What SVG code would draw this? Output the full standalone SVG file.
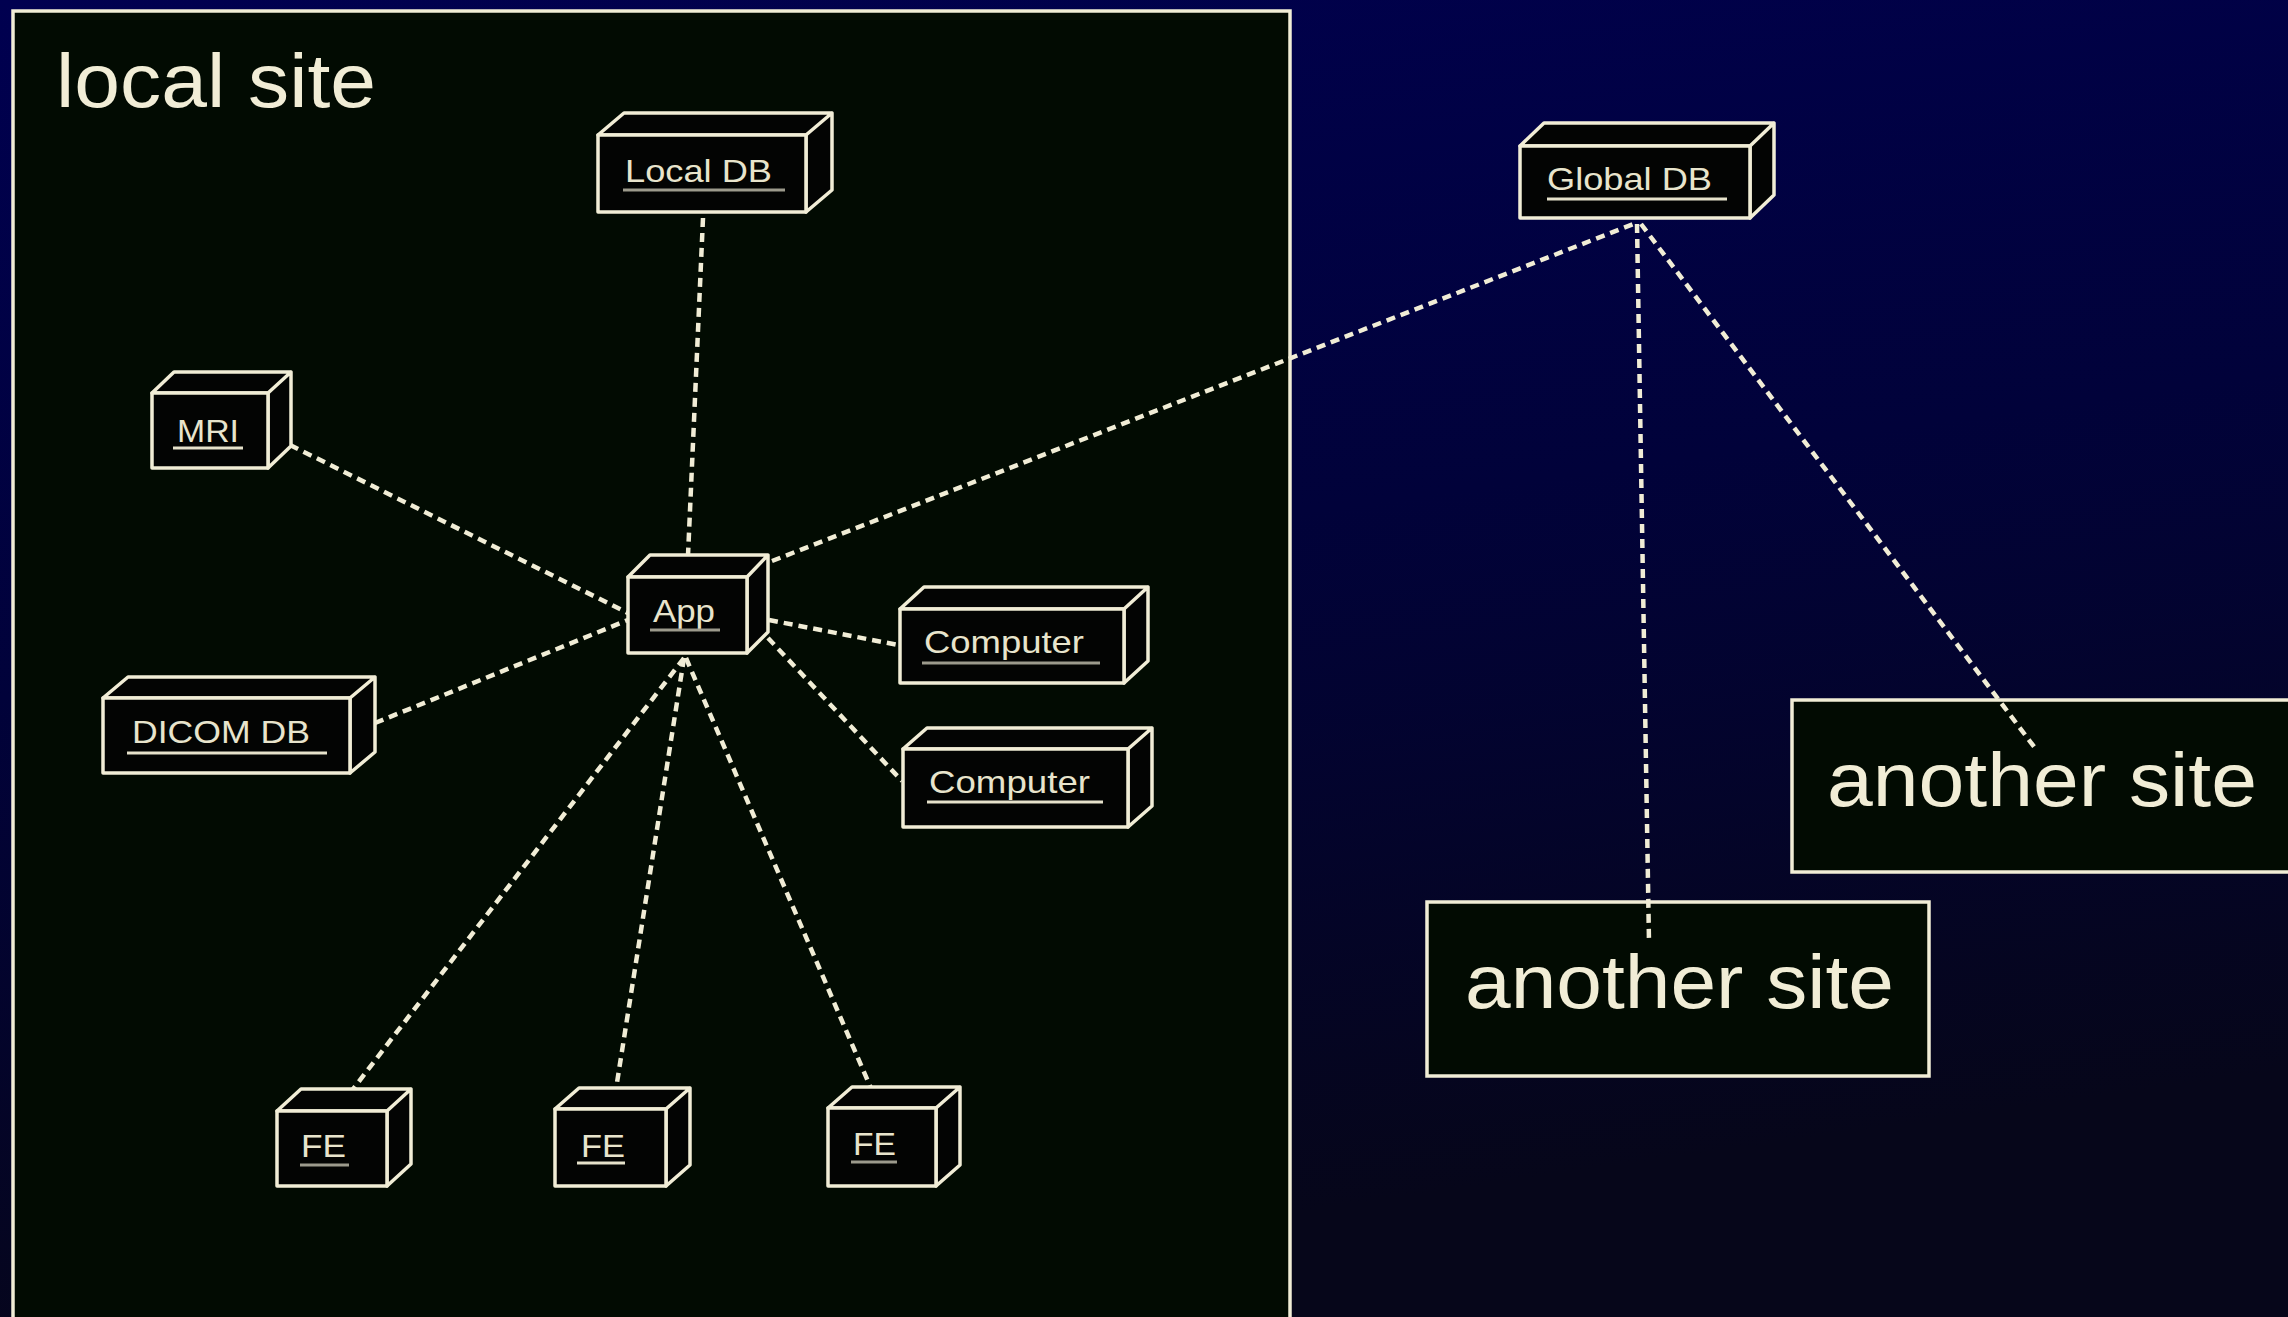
<svg xmlns="http://www.w3.org/2000/svg" width="2288" height="1317" viewBox="0 0 2288 1317">
<defs>
<linearGradient id="bg" x1="0" y1="0" x2="0.25" y2="1">
<stop offset="0" stop-color="#000050"/>
<stop offset="0.5" stop-color="#01023a"/>
<stop offset="1" stop-color="#06061a"/>
</linearGradient>
<style>
.box{fill:#030403;stroke:#f1edd6;stroke-width:3.5;stroke-linejoin:round}
.lbl{font-family:"Liberation Sans",Arial,sans-serif;font-size:32px;fill:#e8e4cc}
.ul{stroke-width:3}
.ulc{stroke:#e6e2cb}
.ulg{stroke:#9c9a8c}
.site{fill:#020b02;stroke:#f1edd6;stroke-width:3.5}
.big{font-family:"Liberation Sans",Arial,sans-serif;font-size:76px;fill:#f1edd6}
.con{fill:none;stroke:#f1edd6;stroke-width:4.5;stroke-dasharray:9 6}
</style>
</defs>
<rect x="0" y="0" width="2288" height="1317" fill="url(#bg)"/>
<g id="local-site">
<rect class="site" x="13" y="11" width="1277" height="1330"/>
<text class="big" x="56" y="107" textLength="320" lengthAdjust="spacingAndGlyphs">local site</text>
</g>
<g id="another-site-1">
<rect class="site" x="1792" y="700" width="560" height="172"/>
<text class="big" x="1827" y="806" textLength="430" lengthAdjust="spacingAndGlyphs">another site</text>
</g>
<g id="another-site-2">
<rect class="site" x="1427" y="902" width="502" height="174"/>
<text class="big" x="1465" y="1008" textLength="429" lengthAdjust="spacingAndGlyphs">another site</text>
</g>
<g id="connectors">
<path class="con" d="M703,218 L687,578"/>
<path class="con" d="M290,445 L628,613"/>
<path class="con" d="M375,723 L628,620"/>
<path class="con" d="M769,620 L898,645"/>
<path class="con" d="M768,638 L902,781"/>
<path class="con" d="M772,561 L1636,223"/>
<path class="con" d="M1637,224 L1649,942"/>
<path class="con" d="M1641,224 L2035,748"/>
<path class="con" d="M684,658 L337,1110"/>
<path class="con" d="M684,658 L613,1108"/>
<path class="con" d="M686,658 L879,1107"/>
</g>
<g id="local-db">
<path class="box" d="M598,135 L624,113 L832,113 L806,135 Z M806,135 L832,113 L832,190 L806,212 Z"/>
<rect class="box" x="598" y="135" width="208" height="77"/>
<text class="lbl" x="625" y="182" textLength="147" lengthAdjust="spacingAndGlyphs">Local DB</text>
<line class="ul ulg" x1="623" y1="190" x2="785" y2="190"/>
</g>
<g id="global-db">
<path class="box" d="M1520,146 L1544,123 L1774,123 L1750,146 Z M1750,146 L1774,123 L1774,195 L1750,218 Z"/>
<rect class="box" x="1520" y="146" width="230" height="72"/>
<text class="lbl" x="1547" y="190" textLength="165" lengthAdjust="spacingAndGlyphs">Global DB</text>
<line class="ul ulc" x1="1547" y1="199" x2="1727" y2="199"/>
</g>
<g id="mri">
<path class="box" d="M152,393 L174,372 L291,372 L268,393 Z M268,393 L291,372 L291,446 L268,468 Z"/>
<rect class="box" x="152" y="393" width="116" height="75"/>
<text class="lbl" x="177" y="442" textLength="62" lengthAdjust="spacingAndGlyphs">MRI</text>
<line class="ul ulc" x1="173" y1="448" x2="243" y2="448"/>
</g>
<g id="app">
<path class="box" d="M628,577 L650,555 L768,555 L747,577 Z M747,577 L768,555 L768,632 L747,653 Z"/>
<rect class="box" x="628" y="577" width="119" height="76"/>
<text class="lbl" x="653" y="622" textLength="62" lengthAdjust="spacingAndGlyphs">App</text>
<line class="ul ulg" x1="650" y1="630" x2="720" y2="630"/>
</g>
<g id="dicom-db">
<path class="box" d="M103,698 L128,677 L375,677 L350,698 Z M350,698 L375,677 L375,752 L350,773 Z"/>
<rect class="box" x="103" y="698" width="247" height="75"/>
<text class="lbl" x="132" y="743" textLength="178" lengthAdjust="spacingAndGlyphs">DICOM DB</text>
<line class="ul ulc" x1="127" y1="753" x2="327" y2="753"/>
</g>
<g id="computer-1">
<path class="box" d="M900,609 L924,587 L1148,587 L1124,609 Z M1124,609 L1148,587 L1148,661 L1124,683 Z"/>
<rect class="box" x="900" y="609" width="224" height="74"/>
<text class="lbl" x="924" y="653" textLength="160" lengthAdjust="spacingAndGlyphs">Computer</text>
<line class="ul ulg" x1="922" y1="663" x2="1100" y2="663"/>
</g>
<g id="computer-2">
<path class="box" d="M903,749 L927,728 L1152,728 L1128,749 Z M1128,749 L1152,728 L1152,806 L1128,827 Z"/>
<rect class="box" x="903" y="749" width="225" height="78"/>
<text class="lbl" x="929" y="793" textLength="161" lengthAdjust="spacingAndGlyphs">Computer</text>
<line class="ul ulc" x1="927" y1="802" x2="1103" y2="802"/>
</g>
<g id="fe-1">
<path class="box" d="M277,1111 L301,1089 L411,1089 L387,1111 Z M387,1111 L411,1089 L411,1164 L387,1186 Z"/>
<rect class="box" x="277" y="1111" width="110" height="75"/>
<text class="lbl" x="301" y="1157" textLength="45" lengthAdjust="spacingAndGlyphs">FE</text>
<line class="ul ulg" x1="300" y1="1165" x2="349" y2="1165"/>
</g>
<g id="fe-2">
<path class="box" d="M555,1109 L579,1088 L690,1088 L666,1109 Z M666,1109 L690,1088 L690,1165 L666,1186 Z"/>
<rect class="box" x="555" y="1109" width="111" height="77"/>
<text class="lbl" x="581" y="1157" textLength="44" lengthAdjust="spacingAndGlyphs">FE</text>
<line class="ul ulc" x1="577" y1="1163" x2="625" y2="1163"/>
</g>
<g id="fe-3">
<path class="box" d="M828,1108 L852,1087 L960,1087 L936,1108 Z M936,1108 L960,1087 L960,1165 L936,1186 Z"/>
<rect class="box" x="828" y="1108" width="108" height="78"/>
<text class="lbl" x="853" y="1155" textLength="43" lengthAdjust="spacingAndGlyphs">FE</text>
<line class="ul ulg" x1="851" y1="1162" x2="897" y2="1162"/>
</g>
</svg>
